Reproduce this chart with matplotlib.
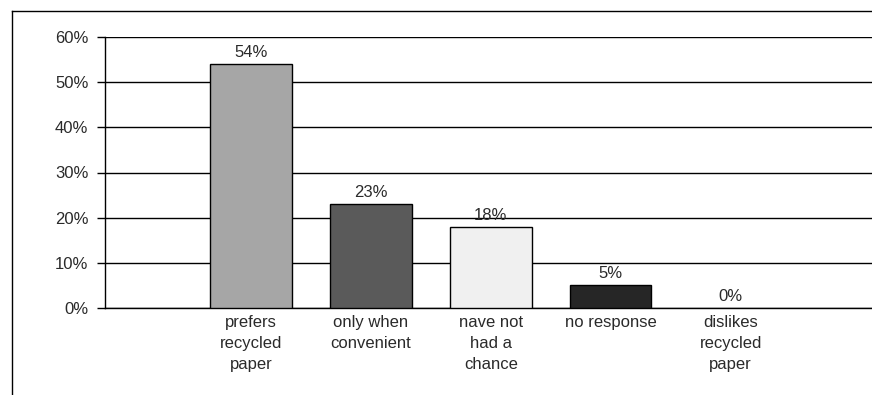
import matplotlib

matplotlib.use("Agg")

import matplotlib.pyplot as plt
from matplotlib.lines import Line2D
from matplotlib.ticker import FuncFormatter, MultipleLocator

plt.rcParams["font.family"] = ["Liberation Sans", "DejaVu Sans"]

categories = [
    "prefers\nrecycled\npaper",
    "only when\nconvenient",
    "nave not\nhad a\nchance",
    "no response",
    "dislikes\nrecycled\npaper",
]
shares = [54, 23, 18, 5, 0]
bar_colors = ["#a6a6a6", "#5a5a5a", "#f0f0f0", "#262626", "#ffffff"]

text_color = "#2a2a2a"
fs = 12

fig = plt.figure(figsize=(8.72, 3.95), dpi=100)
ax = fig.add_axes([105 / 872, 87 / 395, 1 - 105 / 872, 271 / 395])

positions = list(range(len(categories)))
for pos, value, color in zip(positions, shares, bar_colors):
    if value > 0:
        ax.bar(pos, value, width=0.68, color=color, edgecolor="black", linewidth=1, zorder=3)
    ax.annotate(f"{value}%", (pos, value), xytext=(0, 3), textcoords="offset points",
                ha="center", va="bottom", fontsize=fs, color=text_color)

ax.set_xlim(-1.22, 5.18)
ax.set_ylim(0, 60)
ax.yaxis.set_major_locator(MultipleLocator(10))
ax.yaxis.set_major_formatter(FuncFormatter(lambda v, _: f"{v:.0f}%"))
ax.grid(axis="y", color="black", linewidth=1, zorder=0)
ax.set_xticks(positions)
ax.set_xticklabels(categories, fontsize=fs, linespacing=1.5, color=text_color)
ax.tick_params(axis="x", length=0, pad=5)
ax.tick_params(axis="y", length=6, width=1, labelsize=fs, labelcolor=text_color, pad=6)
for side in ("top", "right"):
    ax.spines[side].set_visible(False)
ax.spines["left"].set_linewidth(1)
ax.spines["bottom"].set_linewidth(1)

# outer chart frame
frame_x = 12 / 872
frame_y = 1 - 11 / 395
fig.add_artist(Line2D([frame_x, 1], [frame_y, frame_y], color="black", linewidth=1))
fig.add_artist(Line2D([frame_x, frame_x], [0, frame_y], color="black", linewidth=1))

fig.savefig("out.png", dpi=100)
